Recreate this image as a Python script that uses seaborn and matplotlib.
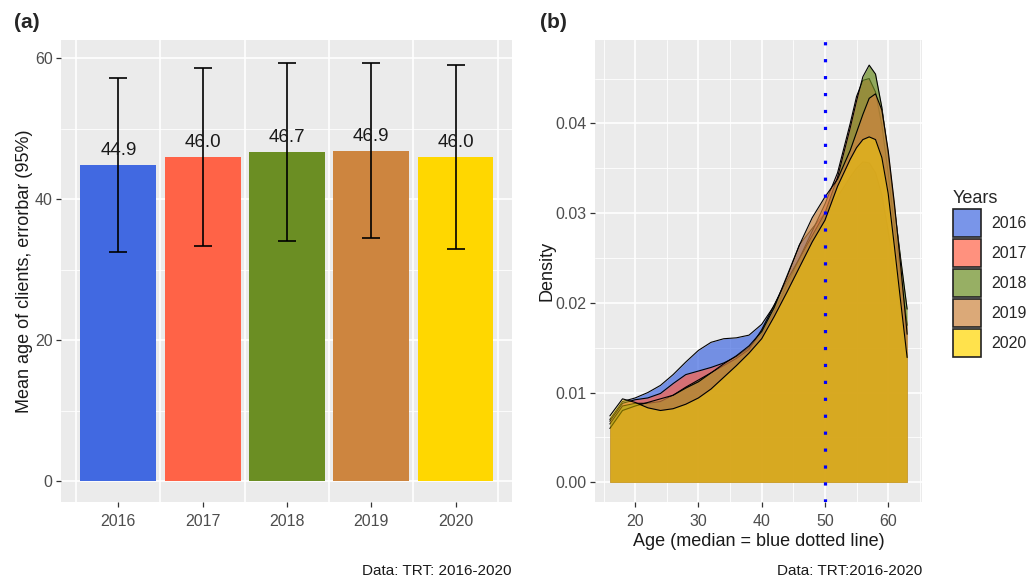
import numpy as np
import pandas as pd
import matplotlib
matplotlib.use("Agg")
import matplotlib.pyplot as plt
import seaborn as sns
from matplotlib.ticker import FixedLocator, MultipleLocator, FormatStrFormatter
from matplotlib.patches import Patch
from matplotlib.colors import to_rgba

# ---------------- data ----------------
years = ["2016", "2017", "2018", "2019", "2020"]
mean_age = [44.9, 46.0, 46.7, 46.9, 46.0]
ci_low = [32.5, 33.4, 34.1, 34.5, 33.0]
ci_high = [57.2, 58.6, 59.3, 59.3, 59.1]
bar_colors = ["#4169E1", "#FF6347", "#6B8E23", "#CD853F", "#FFD700"]

ages = [16, 18, 20, 22, 24, 26, 28, 30, 32, 34, 36, 38, 40, 42, 44, 46, 48,
        50, 52, 54, 55, 56, 57, 58, 59, 60, 61, 62, 63]
dens_2016 = [0.0070, 0.0090, 0.0094, 0.0100, 0.0108, 0.0120, 0.0134, 0.0147,
             0.0156, 0.0160, 0.0161, 0.0164, 0.0176, 0.0197, 0.0228, 0.0265,
             0.0283, 0.0300, 0.0318, 0.0340, 0.0350, 0.0357, 0.0356, 0.0345,
             0.0320, 0.0280, 0.0235, 0.0190, 0.0140]
dens_2017 = [0.0068, 0.0088, 0.0092, 0.0094, 0.0099, 0.0110, 0.0120, 0.0124,
             0.0128, 0.0133, 0.0140, 0.0150, 0.0165, 0.0190, 0.0220, 0.0250,
             0.0280, 0.0310, 0.0345, 0.0400, 0.0430, 0.0448, 0.0450, 0.0435,
             0.0398, 0.0345, 0.0285, 0.0230, 0.0175]
dens_2018 = [0.0065, 0.0085, 0.0088, 0.0088, 0.0090, 0.0097, 0.0106, 0.0114,
             0.0122, 0.0130, 0.0138, 0.0148, 0.0170, 0.0198, 0.0225, 0.0250,
             0.0275, 0.0300, 0.0340, 0.0395, 0.0425, 0.0452, 0.0465, 0.0455,
             0.0418, 0.0365, 0.0305, 0.0248, 0.0193]
dens_2019 = [0.0060, 0.0080, 0.0085, 0.0089, 0.0093, 0.0097, 0.0105, 0.0112,
             0.0122, 0.0132, 0.0141, 0.0152, 0.0168, 0.0195, 0.0230, 0.0265,
             0.0295, 0.0318, 0.0338, 0.0370, 0.0390, 0.0410, 0.0428, 0.0433,
             0.0415, 0.0370, 0.0310, 0.0240, 0.0165]
dens_2020 = [0.0074, 0.0093, 0.0089, 0.0083, 0.0080, 0.0082, 0.0087, 0.0094,
             0.0104, 0.0117, 0.0130, 0.0144, 0.0160, 0.0185, 0.0212, 0.0240,
             0.0268, 0.0292, 0.0330, 0.0360, 0.0373, 0.0382, 0.0385, 0.0382,
             0.0362, 0.0322, 0.0262, 0.0200, 0.0139]
median_age = 50

# ---------------- style ----------------
sns.set_theme(style="darkgrid")
plt.rcParams["font.family"] = ["Liberation Sans", "DejaVu Sans"]
PANEL_BG = "#EBEBEB"
TICK_COL = "#4D4D4D"

fig = plt.figure(figsize=(10.30, 5.81), dpi=100)
W, H = 1030, 581
ax1 = fig.add_axes([61 / W, 1 - 502 / H, 451 / W, 462 / H])
ax2 = fig.add_axes([595 / W, 1 - 502 / H, 327 / W, 462 / H])


def style_axes(ax):
    ax.set_facecolor(PANEL_BG)
    for s in ax.spines.values():
        s.set_visible(False)
    ax.set_axisbelow(True)
    ax.tick_params(axis="both", which="major", length=3.5, width=0.9,
                   color="#333333", labelcolor=TICK_COL, labelsize=11.5,
                   pad=2.5, bottom=True, left=True)
    ax.tick_params(axis="x", which="major", pad=5)
    ax.tick_params(axis="both", which="minor", length=0)


# ---------------- panel (a) ----------------
df_bar = pd.DataFrame({"year": years, "mean": mean_age,
                       "lo": ci_low, "hi": ci_high})
sns.barplot(data=df_bar, x="year", y="mean", hue="year", palette=bar_colors,
            legend=False, width=0.9, saturation=1, errorbar=None,
            linewidth=0, ax=ax1)
xpos = np.arange(len(years))
means = np.array(mean_age)
ax1.errorbar(xpos, means, yerr=[means - np.array(ci_low),
                                np.array(ci_high) - means],
             fmt="none", ecolor="black", elinewidth=1.2, capsize=6.4,
             capthick=1.2, zorder=5)
for i, m in enumerate(mean_age):
    ax1.annotate(f"{m:.1f}", (i, m), xytext=(0, 7), textcoords="offset points",
                 ha="center", va="baseline", fontsize=13.5, color="#1a1a1a",
                 zorder=6)
style_axes(ax1)
ax1.set_xlim(-0.68, 4.67)
ax1.set_ylim(-2.97, 62.6)
ax1.yaxis.set_major_locator(FixedLocator([0, 20, 40, 60]))
ax1.yaxis.set_minor_locator(FixedLocator([10, 30, 50]))
ax1.xaxis.set_minor_locator(FixedLocator([-0.5, 0.5, 1.5, 2.5, 3.5, 4.5]))
ax1.grid(False)
ax1.grid(True, axis="y", which="major", color="white", lw=1.2)
ax1.grid(True, axis="y", which="minor", color="white", lw=0.6)
ax1.grid(True, axis="x", which="minor", color="white", lw=1.2)
ax1.set_xlabel("")
ax1.set_ylabel("Mean age of clients, errorbar (95%)", fontsize=13,
               color="#1a1a1a", labelpad=1)

# ---------------- panel (b) ----------------
dens_all = [dens_2016, dens_2017, dens_2018, dens_2019, dens_2020]
fill_alpha = [0.7, 0.7, 0.7, 0.7, 0.45]
style_axes(ax2)
for i, (yr, dens, col) in enumerate(zip(years, dens_all, bar_colors)):
    ax2.fill_between(ages, dens, 0, color=col, alpha=fill_alpha[i], lw=0,
                     zorder=2 + 2 * i)
    sns.lineplot(x=ages, y=dens, color="black", lw=0.8, ax=ax2,
                 zorder=3 + 2 * i)
ax2.axvline(median_age, color="blue", lw=2.3, ls=(0, (1, 4.3)),
            dash_capstyle="butt", zorder=20)
ax2.set_xlim(13.65, 65.35)
ax2.set_ylim(-0.0022, 0.0493)
ax2.xaxis.set_major_locator(FixedLocator([20, 30, 40, 50, 60]))
ax2.xaxis.set_minor_locator(FixedLocator([15, 25, 35, 45, 55, 65]))
ax2.yaxis.set_major_locator(MultipleLocator(0.01))
ax2.yaxis.set_minor_locator(FixedLocator([0.005, 0.015, 0.025, 0.035, 0.045]))
ax2.yaxis.set_major_formatter(FormatStrFormatter("%.2f"))
ax2.grid(False)
ax2.grid(True, which="major", color="white", lw=1.2)
ax2.grid(True, which="minor", color="white", lw=0.6)
ax2.set_xlabel("Age (median = blue dotted line)", fontsize=13,
               color="#1a1a1a", labelpad=3)
ax2.set_ylabel("Density", fontsize=13, color="#1a1a1a", labelpad=0)

handles = [Patch(facecolor=to_rgba(c, 0.7), edgecolor="#222222", lw=1.2)
           for c in bar_colors]
leg = fig.legend(handles, years, title="Years", loc="upper left",
                 bbox_to_anchor=(953 / W, 1 - 190 / H), frameon=False,
                 fontsize=11.5, title_fontsize=13, handlelength=1.75,
                 handleheight=2.32, labelspacing=0.12, handletextpad=0.65,
                 borderpad=0, borderaxespad=0, alignment="left")

# ---------------- annotations ----------------
fig.text(14 / W, 1 - 22 / H, "(a)", fontsize=15, fontweight="bold",
         va="center", ha="left")
fig.text(540 / W, 1 - 22 / H, "(b)", fontsize=15, fontweight="bold",
         va="center", ha="left")
fig.text(512 / W, 1 - 571 / H, "Data: TRT: 2016-2020", fontsize=11,
         ha="right", va="center", color="#1a1a1a")
fig.text(922 / W, 1 - 571 / H, "Data: TRT:2016-2020", fontsize=11,
         ha="right", va="center", color="#1a1a1a")

fig.savefig("out.png", dpi=100, facecolor="white")
